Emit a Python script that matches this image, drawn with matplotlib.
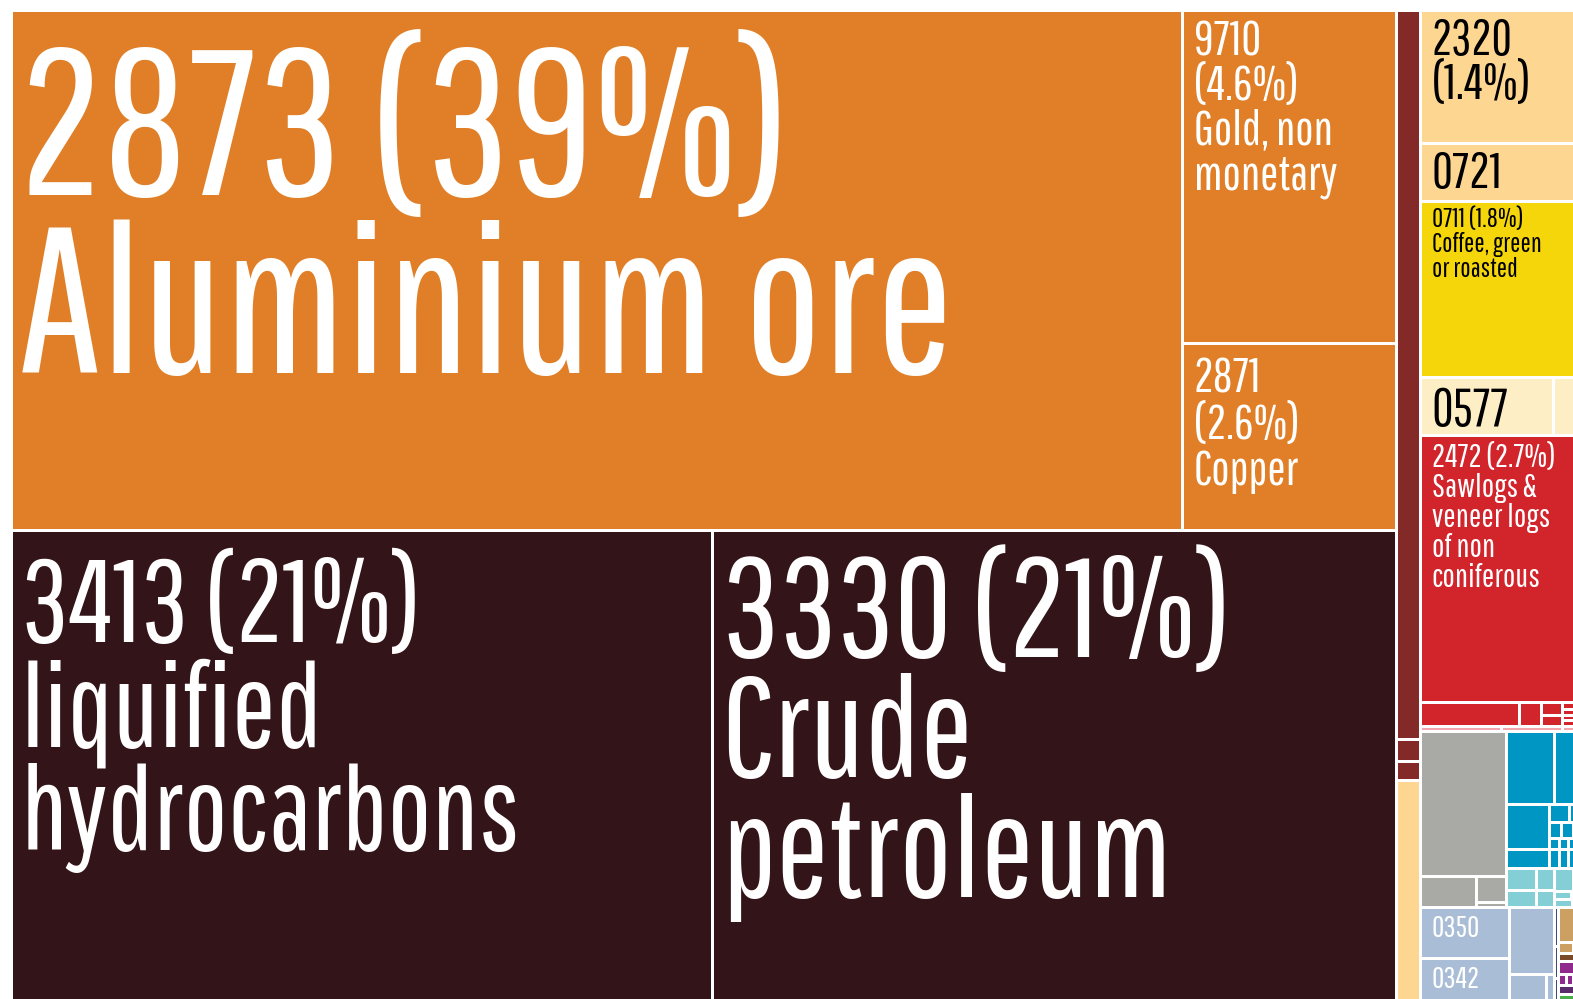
import matplotlib
matplotlib.use("Agg")
import matplotlib.pyplot as plt
from matplotlib.patches import Rectangle
from matplotlib import font_manager as fm
from matplotlib.textpath import TextPath

# share of exports (%) for the labelled products
label_codes = ["2873", "9710", "2871", "3413", "3330", "2320", "0721", "0711", "0577", "2472", "0350", "0342"]
label_text = [
    "2873 (39%)\nAluminium ore",
    "9710\n(4.6%)\nGold, non\nmonetary",
    "2871\n(2.6%)\nCopper",
    "3413 (21%)\nliquified\nhydrocarbons",
    "3330 (21%)\nCrude\npetroleum",
    "2320\n(1.4%)",
    "0721",
    "0711 (1.8%)\nCoffee, green\nor roasted",
    "0577",
    "2472 (2.7%)\nSawlogs &\nveneer logs\nof non\nconiferous",
    "0350",
    "0342",
]
label_shares = [38.9, 4.55, 2.55, 21.26, 20.74, 1.40, 0.613, 1.859, 0.493, 2.82, 0.2852, 0.2682]
label_groups = ["ores", "ores", "ores", "fuel", "fuel", "peach", "peach", "coffee", "pale", "wood", "slate", "slate"]

# unlabelled products, by group
chem_shares = [1.117, 0.033, 0.029]
peach_shares = [0.345]
pale_shares = [0.120]
wood_row = [0.155, 0.0336, 0.018, 0.0149, 0.011, 0.009, 0.009, 0.0085]
pink_row = [0.0235, 0.0178, 0.0067]
grey_shares = [0.7915, 0.1126, 0.049, 0.0103]
blue_shares = [0.2235, 0.149, 0.1234, 0.0521, 0.0245, 0.0192, 0.013, 0.0125, 0.0123,
               0.007, 0.006, 0.006, 0.0058, 0.013, 0.011, 0.011, 0.0098]
lblue_shares = [0.0431, 0.0325, 0.026, 0.0193, 0.028, 0.0189, 0.009, 0.0073, 0.01, 0.0074]
slate_shares = [0.191, 0.0754, 0.0151]
navy_shares = [0.01, 0.008, 0.007]
tan_shares = [0.0616, 0.011, 0.0086]
brown_shares = [0.0143]
purple_shares = [0.0232, 0.006, 0.005, 0.0046, 0.004]
plum_shares = [0.0161]
green_shares = [0.012, 0.0085]

colors = {
    "ores": "#e07f27", "fuel": "#331418", "chem": "#832927", "peach": "#fdd791",
    "pale": "#feeec6", "coffee": "#f4d60b", "wood": "#d1242b", "pink": "#f3a5ad",
    "grey": "#a9aaa6", "blue": "#0096c3", "lblue": "#84cfd5", "slate": "#a9bed6",
    "tan": "#cc9f62", "brown": "#7a4a2a", "purple": "#912a8d", "navy": "#3b4b7b",
    "plum": "#5b2a6a", "green": "#4aae48",
}
dark_groups = {"ores", "fuel", "wood", "slate", "chem"}

# label style: first baseline offset, line lead, max cap height, widest line (px)
label_style = {
    "2873": (183, 178, 148, 935),
    "9710": (43, 44.7, 34, 152),
    "2871": (47, 46.5, 34, 122),
    "3413": (110, 104, 82, 540),
    "3330": (125, 120, 100, 510),
    "2320": (43, 44, 35, 103),
    "0721": (43, 44, 36, 73),
    "0711": (24, 25, 19, 122),
    "0577": (47, 44, 37, 83),
    "2472": (30, 30, 23, 137),
    "0350": (28, 28, 21, 54),
    "0342": (28, 28, 21, 56),
}


def L(i):
    return (label_shares[i], label_groups[i], i)


def U(s, g):
    return (s, g, None)


col_a = ["v", ["h", L(0), ["v", L(1), L(2)]], ["h", L(3), L(4)]]
col_b = ["v"] + [U(s, "chem") for s in chem_shares] + [U(peach_shares[0], "peach")]
wood = ["v", L(9),
        ["h", U(wood_row[0], "wood"), U(wood_row[1], "wood"),
         ["v", U(wood_row[2], "wood"), U(wood_row[3], "wood")],
         ["v"] + [U(s, "wood") for s in wood_row[4:]]],
        ["h"] + [U(s, "pink") for s in pink_row]]
grey = ["v", U(grey_shares[0], "grey"),
        ["h", U(grey_shares[1], "grey"), ["v", U(grey_shares[2], "grey"), U(grey_shares[3], "grey")]]]
b = [U(s, "blue") for s in blue_shares]
blue = ["v", ["h", b[0], b[1]],
        ["h", ["v", b[2], b[3]],
         ["v", ["h"] + b[4:6], ["h"] + b[6:9], ["h"] + b[9:13], ["h"] + b[13:17]]]]
lb = [U(s, "lblue") for s in lblue_shares]
lblue = ["h", ["v", lb[0], lb[1]], ["v", lb[2], lb[3]],
         ["v", ["h"] + lb[4:6], ["h"] + lb[6:8], ["h"] + lb[8:10]]]
slate = ["h", ["v", L(10), L(11)],
         ["v", U(slate_shares[0], "slate"), ["h", U(slate_shares[1], "slate"), U(slate_shares[2], "slate")]]]
misc = ["h", ["v"] + [U(s, "navy") for s in navy_shares],
        ["v", U(tan_shares[0], "tan"), ["h", U(tan_shares[1], "tan"), U(tan_shares[2], "tan")],
         U(brown_shares[0], "brown"), U(purple_shares[0], "purple"),
         ["h"] + [U(s, "purple") for s in purple_shares[1:]],
         U(plum_shares[0], "plum"), ["h"] + [U(s, "green") for s in green_shares]]]
col_c = ["v", L(5), L(6), L(7), ["h", L(8), U(pale_shares[0], "pale")], wood,
         ["v", ["h", grey, ["v", blue, lblue]], ["h", slate, misc]]]
tree = ["h", col_a, col_b, col_c]


def total(n):
    if isinstance(n, list):
        return sum(total(c) for c in n[1:])
    return n[0]


def layout(n, x, y, w, h, out):
    if not isinstance(n, list):
        out.append((x, y, w, h, n))
        return
    t = total(n)
    pos = 0.0
    for c in n[1:]:
        f = total(c) / t
        if n[0] == "h":
            layout(c, x + pos * w, y, f * w, h, out)
        else:
            layout(c, x, y + pos * h, w, f * h, out)
        pos += f


W, H = 1573, 999
fig = plt.figure(figsize=(W / 100, H / 100), dpi=100)
ax = fig.add_axes([0, 0, 1, 1])
ax.set_xlim(0, W)
ax.set_ylim(H, 0)
ax.axis("off")

names = {f.name for f in fm.fontManager.ttflist}
prefer = ["Pathway Gothic One", "Roboto Condensed", "Liberation Sans Narrow"]
FONT = next((n for n in prefer if n in names), "DejaVu Sans")
fp = fm.FontProperties(family=FONT)
cap_ratio = TextPath((0, 0), "H", size=100, prop=fp).get_extents().height / 100

rects = []
layout(tree, 11.5, 10.5, 1574.5, 995, rects)
gap = 1.5
renderer = fig.canvas.get_renderer()
for x, y, w, h, (s, g, lab) in rects:
    if w - 2 * gap > 0.3 and h - 2 * gap > 0.3:
        ax.add_patch(Rectangle((x + gap, y + gap), w - 2 * gap, h - 2 * gap,
                               facecolor=colors[g], linewidth=0))
    if lab is None:
        continue
    off, lead, cap, fitw = label_style[label_codes[lab]]
    lines = label_text[lab].split("\n")
    widths = []
    for line in lines:
        t = ax.text(0, 0, line, fontsize=100, fontproperties=fp)
        widths.append(t.get_window_extent(renderer).width)
        t.remove()
    size = min(100 * fitw / max(widths), cap / (cap_ratio * 100 / 72))
    pad = 10.5 - 0.03 * size
    tc = "white" if g in dark_groups else "black"
    for k, line in enumerate(lines):
        ax.text(x + gap + pad, y + gap + off + k * lead, line, fontproperties=fp, fontsize=size,
                color=tc, va="baseline", ha="left")

fig.savefig("out.png", dpi=100)
